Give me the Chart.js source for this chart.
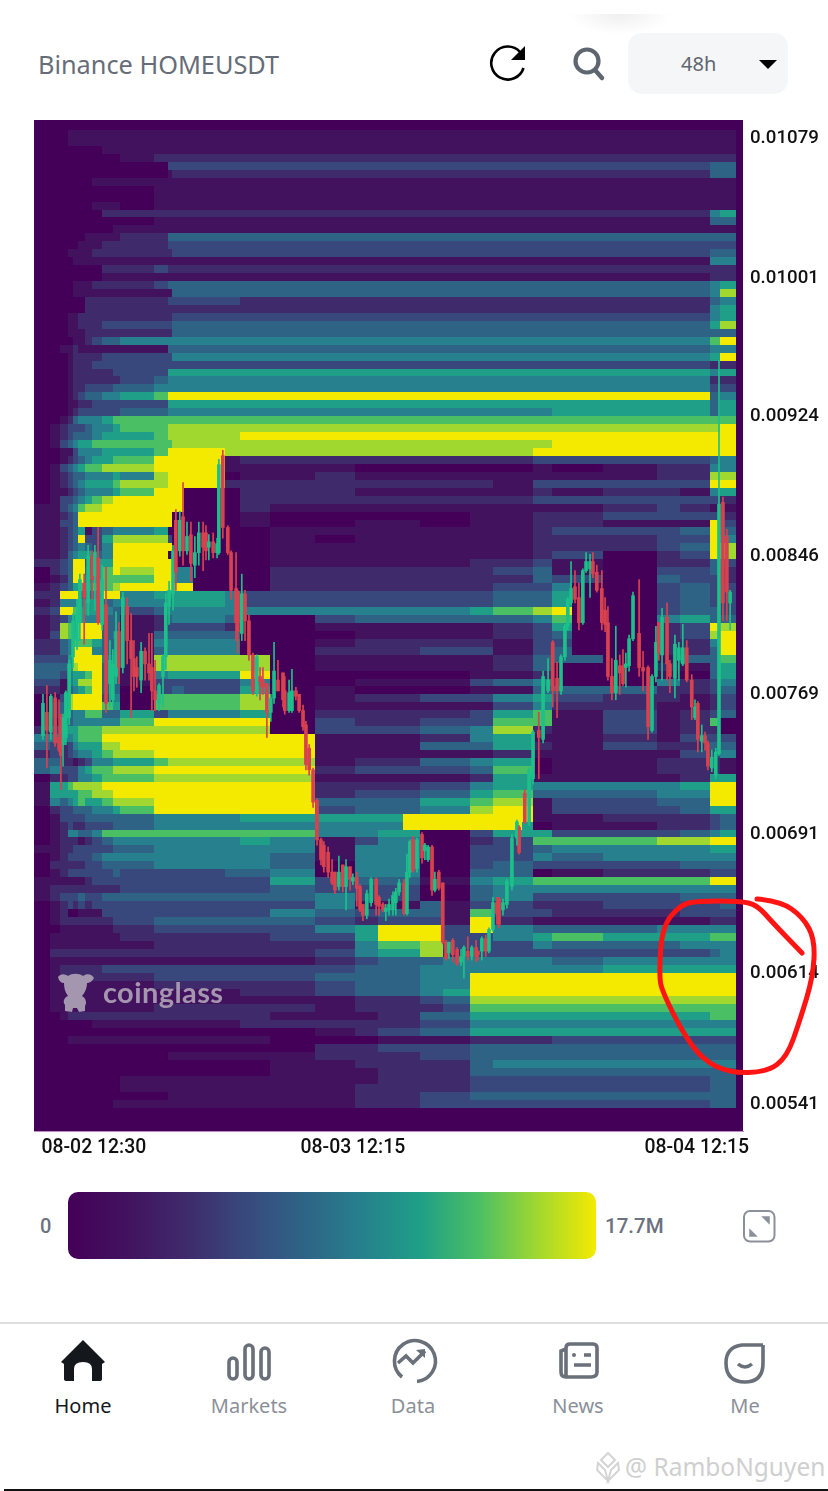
<!DOCTYPE html>
<html>
<head>
<title>Binance HOMEUSDT</title>
<script src="https://cdn.jsdelivr.net/npm/chart.js"></script>
<style>
  html, body { margin: 0; padding: 0; background: #fff; }
  #page { position: relative; width: 828px; height: 1491px; overflow: hidden; font-family: "Noto Sans", sans-serif; }
  #page > * { position: absolute; }
  #sensor { left: 0; top: 0; }
  .tab { top: 1393px; width: 120px; text-align: center; font-size: 20px; line-height: 26px; color: #8b9099; }
  svg { overflow: visible; }
</style>
</head>
<body>
<div id="page">
  <div style="left:570px;top:14px;width:100px;height:20px;background:radial-gradient(ellipse at 50% 0,#efefef 0,#f8f8f8 40%,#fff 72%)"></div>
  <div style="left:38px;top:46px;font-size:25.3px;line-height:36px;color:#666d78;white-space:nowrap">Binance HOMEUSDT</div>
  <svg style="left:0;top:0" width="828" height="100">
    <path d="M520 52 A16.5 16.5 0 1 0 523.5 68" fill="none" stroke="#000" stroke-width="2.6"/>
    <path d="M525 46 L525 60 L511 60 Z" fill="#000"/>
    <circle cx="587" cy="61" r="11.5" fill="none" stroke="#5f6670" stroke-width="4.2"/>
    <path d="M595 70 L602 78" stroke="#5f6670" stroke-width="4.4" stroke-linecap="round"/>
    <rect x="628" y="33" width="160" height="61" rx="14" fill="#f5f6f8"/>
    <path d="M759 60 L777 60 L768 69 Z" fill="#000"/>
  </svg>
  <div style="left:681px;top:46px;font-size:20px;line-height:36px;color:#5f6670">48h</div>

  <canvas id="sensor" width="828" height="1180"></canvas>

  <svg style="left:57px;top:970px" width="38" height="46" viewBox="0 0 38 46">
    <path d="M1 7 C4 3 8 4 11 6 C15 3 22 3 26 6 C30 3 35 4 37 8 C35 12 32 13 30 13 C30 19 27 24 25 26 C29 28 30 33 28 36 L28 41 L22 42 L20 38 L16 38 L15 42 L8 41 L8 35 C5 31 8 27 11 26 C8 22 7 18 7 13 C4 13 2 11 1 7 Z" fill="#a596b0"/>
  </svg>
  <div style="left:103px;top:973px;font-family:Lato,sans-serif;font-weight:700;font-size:29px;line-height:38px;color:#a596b0;letter-spacing:.4px">coinglass</div>

  <div style="left:40px;top:1212px;font-family:Roboto,sans-serif;font-weight:500;font-size:20px;line-height:28px;color:#6b7280">0</div>
  <div id="colorbar" style="left:68px;top:1192px;width:528px;height:67px;border-radius:10px"></div>
  <div style="left:605px;top:1212px;font-family:Roboto,sans-serif;font-weight:500;font-size:20.5px;line-height:28px;color:#6b7280">17.7M</div>
  <svg style="left:0;top:1200px" width="828" height="50">
    <rect x="744" y="11" width="30.5" height="30.5" rx="6" fill="none" stroke="#8b9099" stroke-width="2"/>
    <path d="M763 17 L769 17 L769 23 Z M750 30 L756 36 L750 36 Z" fill="#8b9099" stroke="#8b9099" stroke-width="1.5"/>
  </svg>

  <div style="left:0;top:1322px;width:828px;height:2px;background:#dedede"></div>
  <svg style="left:0;top:1330px" width="828" height="60">
    <path d="M83 10 L105 32 L102 34 L102 49 Q102 51 99 51 L92 51 L92 39 Q92 32 83 32 Q74 32 74 39 L74 51 L67 51 Q64 51 64 49 L64 34 L61 32 Z" fill="#14171c"/>
    <g fill="none" stroke="#6a707a" stroke-width="3.6">
      <rect x="229" y="28" width="8" height="21" rx="4"/><rect x="245" y="15" width="8" height="34" rx="4"/><rect x="261" y="18" width="8" height="31" rx="4"/>
      <path d="M402 47 A20.5 20.5 0 1 1 417 51.5"/><path d="M398 33 L406 26 L413 33 L425 21"/>
      <path d="M566 47 Q561 47 561 42 L561 21 L566 19 M566 47 L591 47 Q597 47 597 42 L597 18 Q597 14 593 14 L570 14 Q566 14 566 18 L566 47"/>
      <path d="M584 25 L591 25 M574 35 L591 35"/>
      <path d="M763 15 L742 15 Q726 17 726 33 Q726 52 745 52 Q763 52 763 33 L763 15"/>
      <path d="M738 34 Q745 40 752 34"/>
    </g>
    <path d="M425 19 L425 28 L416 20 Z" fill="#6a707a"/>
    <circle cx="574" cy="25" r="2" fill="#6a707a"/>
  </svg>
  <div class="tab" style="left:23px;color:#14171c">Home</div>
  <div class="tab" style="left:189px">Markets</div>
  <div class="tab" style="left:353px">Data</div>
  <div class="tab" style="left:518px">News</div>
  <div class="tab" style="left:685px">Me</div>

  <svg style="left:592px;top:1451px" width="32" height="32" viewBox="0 0 32 32">
    <path d="M16 2 L23 9 L16 16 L9 9 Z M6 12 L13 19 L16 30 L5 19 Z M26 12 L19 19 L16 30 L27 19 Z" fill="none" stroke="#d4d4d4" stroke-width="2"/>
  </svg>
  <div style="left:625px;top:1450px;font-family:'Noto Sans',sans-serif;font-size:24.5px;line-height:34px;color:#cfcfcf;white-space:nowrap">@ RamboNguyen</div>
  <div style="left:4px;top:1489px;width:824px;height:2px;background:#111"></div>

  <svg id="markup" style="left:0;top:0;pointer-events:none" width="828" height="1491">
    <path id="circle" fill="none" stroke="#ff1414" stroke-width="5" stroke-linecap="round" stroke-linejoin="round"/>
  </svg>
</div>

<script>
// price axis is in units of 0.00001 USDT, time axis in 15 minute slots
const priceTicks = [1079, 1001, 924, 846, 769, 691, 614, 541];
const timeTickSlots = [16.7, 89, 185];
const timeTickLabels = ['08-02 12:30', '08-03 12:15', '08-04 12:15'];

// liquidation levels: 0 (none) .. 9 (17.7M and up)
const heatPalette = ['#440058', '#42125f', '#3f2a6c', '#38487d', '#2f6386', '#26808d', '#1f9f87', '#4bbf64', '#a0d830', '#f4ea00'];
const heatEdges = [0, 4.47, 7.26, 9.49, 10.9, 12.3, 14.2, 16.2, 19, 22.1, 24, 33.5, 37.4, 38.5, 41.9, 44.4, 53.3, 57.5, 65.9, 78.4, 89.6, 96, 107.7, 114.1, 121.7, 128.1, 139.3, 144.6, 158.8, 173.9, 180.3, 188.7, 191.5, 196];
const heatTopPrice = 1082.4;
const heatStep = 4.428;
const heatRows = [
  '00011 11111 11111 11111 11111 11111 111',
  '00011 11111 11111 11111 11111 11111 111',
  '00000 00011 11111 11111 11111 11111 111',
  '00000 00000 12222 22222 22222 22222 222',
  '00000 00000 00333 33333 33333 33333 344',
  '00000 00000 00122 22222 22222 22222 244',
  '00000 00111 11111 11111 11111 11111 111',
  '00000 00000 01111 11111 11111 11111 111',
  '00000 00000 01111 11111 11111 11111 111',
  '00000 00111 01111 11111 11111 11111 111',
  '00000 00022 22222 22222 22222 22222 256',
  '00000 00000 01111 11111 11111 11111 144',
  '00000 00001 11111 11111 11111 11111 111',
  '00000 01111 22444 44444 44444 44444 444',
  '00000 11122 22333 33333 33333 33333 333',
  '00011 11222 22233 33333 33333 33333 344',
  '00001 11111 11111 11111 11111 11111 155',
  '00000 00022 23222 22222 22222 22222 222',
  '00000 00011 11111 11111 11111 11111 122',
  '00001 11222 23444 44444 44444 44444 456',
  '00001 11111 11144 44444 44444 44444 458',
  '00000 02222 22333 33222 22222 22222 245',
  '00000 02222 22222 22222 22222 22222 256',
  '00011 22222 22233 33333 33333 33333 356',
  '00011 22233 33344 44444 44444 44444 468',
  '00011 12222 22244 44444 44444 44444 444',
  '00001 12344 55555 55555 55555 55555 579',
  '00112 11111 11444 44444 44444 44444 455',
  '00012 22233 33355 55555 55555 55555 569',
  '00012 22333 33333 33333 33333 33333 322',
  '00012 22223 33666 66666 66666 66666 656',
  '00012 22222 34555 55555 55555 55555 522',
  '00012 23334 45555 55555 55555 55555 533',
  '00012 34455 67999 99999 99999 99999 945',
  '00011 22333 33666 66666 66666 66666 646',
  '00012 33333 44555 55555 55555 55666 646',
  '00124 55567 77777 77777 77777 77777 777',
  '01233 34556 77888 88888 88888 88888 889',
  '01234 44566 67888 88999 99999 99999 999',
  '01345 66777 77788 88888 88888 88999 999',
  '00113 55566 67999 98888 88888 89999 999',
  '00123 45667 79999 91222 22222 23333 345',
  '01345 67788 89999 91111 00000 01012 255',
  '01234 45556 58999 90112 11111 11112 288',
  '01234 56667 88999 92222 22222 13333 399',
  '01123 45556 79990 00222 11111 12122 156',
  '01334 56789 99990 00222 22222 23333 332',
  '11345 78899 99990 00211 11111 11123 211',
  '11234 99999 99900 00100 00001 12233 332',
  '11334 99999 99900 00100 11001 12211 193',
  '11234 61345 56000 00011 11111 12333 494',
  '11234 93368 88300 00010 11111 12223 395',
  '11234 54359 99900 00011 11111 12223 498',
  '11245 66459 99000 00011 11111 12302 398',
  '22349 93669 99900 00011 11112 23102 243',
  '02349 94679 89955 00022 22222 34103 342',
  '01249 95677 79955 00022 22222 24304 332',
  '12346 76778 99999 00022 22222 33503 433',
  '22999 44599 56666 65333 33333 44603 433',
  '12555 56645 55566 65333 33333 44603 433',
  '23997 66654 34555 55555 55556 78903 443',
  '12356 65544 12455 54003 44444 45705 644',
  '12875 99944 12333 32001 11111 23602 398',
  '13876 99945 14444 44000 11111 23402 389',
  '22457 77644 15555 55001 22222 13302 259',
  '22459 99544 14555 55002 22333 13402 249',
  '33369 99955 18888 88801 11111 24401 447',
  '44468 99945 18888 88801 11111 24002 146',
  '44356 67944 15666 66900 00001 12001 046',
  '33156 88944 13333 33500 11113 45005 235',
  '22145 67944 03343 33601 00001 14442 234',
  '01389 99935 07777 77801 22333 56322 123',
  '02489 99976 07777 77801 11111 35221 123',
  '02445 57744 63555 55602 22223 67131 234',
  '01345 55555 79999 99903 22333 77131 270',
  '23666 77788 88888 88803 33445 82131 220',
  '55556 77799 99999 99991 11225 61121 333',
  '43235 66688 99999 99991 11444 62132 244',
  '23234 55678 89999 99991 11111 21111 335',
  '44221 23556 67888 88881 22445 60112 221',
  '45333 56778 89999 99992 33334 70112 221',
  '02233 55677 78888 88881 11112 61111 266',
  '16678 88899 99999 99992 22335 65555 699',
  '16666 77889 99999 99992 33446 74445 599',
  '15456 76678 89999 99994 44667 81334 499',
  '02334 44556 79999 99993 44558 91333 466',
  '01333 34444 45555 55666 66999 91122 234',
  '01232 23334 45555 55555 55999 60112 234',
  '01255 44577 77777 77775 56003 66333 456',
  '01222 12345 55555 55651 35002 37778 899',
  '11223 33334 45555 55551 55003 34555 566',
  '01233 33455 55555 55541 55003 35455 555',
  '02222 23344 45555 55540 55003 43333 444',
  '01233 33334 33333 34450 55004 40122 233',
  '11111 12333 33333 33363 44115 67777 799',
  '12222 22222 33333 33343 33004 55555 555',
  '12333 43344 44444 44445 33004 53333 444',
  '01232 32333 33333 33335 11413 32233 334',
  '01200 11133 33333 33354 34417 33222 333',
  '01222 22223 34444 44443 23319 21111 122',
  '00111 11112 23333 33335 69939 54445 555',
  '01111 11111 22222 22233 69933 56766 677',
  '01111 11111 12222 22222 57833 35444 555',
  '02222 22222 22222 22223 56823 33333 345',
  '01111 11111 11111 11112 34455 55455 555',
  '01222 22233 33333 33333 44555 55566 666',
  '01222 22222 23333 33334 44559 99999 999',
  '01111 11111 12222 22223 44559 99999 999',
  '01111 11111 11111 11223 44569 99999 999',
  '01111 11111 11111 11111 22348 88888 888',
  '01111 11111 12222 22221 22237 77777 777',
  '00122 22222 22222 22211 12446 66666 677',
  '00000 00111 11111 11222 22335 55555 555',
  '00000 00000 00000 00001 23446 66666 666',
  '00011 11111 11111 11100 01112 22333 333',
  '00000 00000 00000 00002 23334 44444 444',
  '00000 00000 00111 11112 22334 44444 444',
  '00000 00000 00000 00011 22224 55555 555',
  '00000 00000 00000 00011 12224 44444 444',
  '00000 00000 11111 11111 12223 33333 344',
  '00000 00000 11111 11111 22223 33333 344',
  '00000 00000 00111 11111 22334 44444 444',
  '00000 00001 11111 11111 22333 33333 344'
];
// first row, last row, from slot, to slot, level: spots that do not fall on the column edges
const heatPatches = [
  [57, 65, 150.2, 158.8, 0],
  [86, 87, 103, 107.7, 9],
  [87, 87, 128.1, 136.1, 9]
];

// candles
const candleSlot = [
  2.5,3.6,4.7,5.9,7,7.5,8.1,8.9,9.8,10.9,
  12,12.8,14,15.1,16.2,17,17.9,19,20.1,21.2,
  22,22.9,23.7,24.8,26,27.1,27.9,28.7,29.9,31,
  32.1,32.9,33.8,34.9,36,36.8,37.7,38.8,39.6,40.7,
  41.6,42.7,43.8,44.9,46,47.2,48,48.8,50,51.1,
  51.6,52.7,54.1,55,56.4,56.9,58,58.9,60,61.1,
  62.2,63.1,63.9,65,66.1,67,68.1,69.5,70,71.2,
  72,73.1,74,75.1,75.9,76.8,77.9,79,80.1,80.9,
  82.1,83.2,84,85.1,86.2,87.1,88.2,89,90.1,91,
  91.8,92.9,94.1,95.5,96.3,97.4,98.2,99.1,100.2,101,
  101.9,103.3,104.1,104.9,105.8,106.9,108.3,109.1,110,111.1,
  111.9,113,114.1,115,115.8,116.9,118.1,119.2,120,121.1,
  122.2,123.4,123.9,125,126.1,127,128.1,129.2,129.8,130.9,
  132,133.4,134.8,135.4,137,138.2,139.3,140.9,142.1,143.5,
  144.8,146,147.1,148.2,149,149.9,151,152.1,153.2,154.1,
  155.2,156,157.1,158.5,159.4,160.2,161.3,162.4,163.5,164.4,
  165.2,166.1,167.2,168.9,170,171.4,172.5,173.6,174.4,175.3,
  176.7,177.5,178.9,180,181.1,182.2,183.6,184.5,185.3,186.4,
  187.3,188.1,189.2,190.3,191.2,192.3,193.4,194.3
];
const candleOpen = [
  745,758,747,766,744,743,740,744,755,789,
  798,808,830,819,845,834,844,807,818,774,
  765,778,803,783,817,798,788,783,776,792,
  785,783,770,763,778,789,817,824,865,848,
  867,848,857,840,847,858,858,850,853,847,
  847,901,861,847,827,825,802,824,809,790,
  769,778,776,774,758,766,776,780,770,759,
  759,770,768,759,751,738,726,709,687,684,
  680,669,669,661,673,661,672,664,666,661,
  651,645,652,665,655,651,647,648,648,652,
  658,663,646,669,687,671,690,681,676,683,
  659,669,663,630,624,631,626,619,622,625,
  622,627,625,625,632,625,637,652,654,648,
  651,661,688,694,713,697,721,748,743,770,
  797,777,770,789,806,819,828,822,808,837,
  838,842,836,827,815,808,778,769,784,784,
  783,784,799,802,783,783,748,778,808,790,
  811,785,777,787,785,794,776,755,763,742,
  745,741,727,723,735,875,856,819
];
const candleClose = [
  763,748,767,741,737,734,755,769,785,809,
  814,832,822,845,832,847,808,832,763,787,
  785,803,783,822,798,788,778,778,792,785,
  780,770,765,773,789,819,826,848,836,865,
  848,856,841,847,858,850,848,853,847,852,
  896,861,847,826,808,803,824,809,790,770,
  789,775,772,758,766,781,770,765,759,769,
  770,767,759,750,729,726,708,687,676,672,
  669,663,659,669,661,672,665,666,660,648,
  645,657,665,651,650,648,649,651,656,658,
  663,646,669,686,670,687,677,684,683,659,
  665,660,630,621,630,623,618,622,627,622,
  627,622,623,632,625,637,652,646,640,652,
  664,688,697,680,697,726,747,744,778,776,
  770,770,789,806,821,827,821,808,837,842,
  842,835,826,808,807,778,769,787,780,774,
  785,799,823,783,781,750,778,797,791,811,
  785,778,796,794,794,776,761,761,743,745,
  741,728,733,736,874,819,825,825
];
const candleHigh = [
  768,773,768,769,765,757,757,770,787,813,
  821,835,835,851,848,851,861,840,839,798,
  793,814,808,825,822,813,798,789,797,794,
  802,802,787,774,790,824,831,851,871,870,
  886,864,864,856,864,864,862,857,858,855,
  899,904,862,848,847,826,835,826,812,791,
  790,783,783,774,768,797,787,780,778,776,
  782,772,768,762,753,740,727,710,688,686,
  683,676,669,678,673,676,672,668,669,662,
  651,659,666,666,656,652,651,654,658,660,
  665,665,679,687,689,688,691,685,684,684,
  669,670,663,631,630,632,627,626,628,633,
  628,631,625,633,634,638,655,655,655,654,
  665,690,698,695,715,727,748,758,781,788,
  798,786,790,807,822,842,837,830,838,847,
  846,847,840,837,822,817,788,806,790,793,
  791,801,825,832,792,784,779,806,808,816,
  819,787,801,797,807,798,779,765,764,751,
  747,742,737,738,954,878,860,826
];
const candleLow = [
  743,727,743,739,736,715,728,740,751,783,
  793,798,796,812,821,815,807,804,758,761,
  762,774,774,780,785,755,770,772,769,776,
  776,759,759,759,761,782,807,815,826,845,
  840,846,831,833,840,837,843,843,844,844,
  846,855,846,821,798,791,798,798,787,768,
  767,765,768,744,753,763,770,761,757,758,
  758,765,758,748,726,723,705,684,673,669,
  666,662,657,659,658,648,659,662,650,647,
  642,643,650,645,645,647,642,645,645,645,
  656,645,645,666,669,669,674,676,675,656,
  658,659,629,620,621,619,617,617,610,620,
  620,619,620,620,622,624,636,640,638,645,
  649,659,684,679,696,695,718,721,741,769,
  761,755,768,787,804,818,819,804,807,836,
  822,833,825,804,803,776,765,765,768,773,
  772,781,798,778,770,743,747,775,787,776,
  776,769,766,776,784,775,754,754,736,736,
  737,726,725,721,734,809,809,804
];

const UP = '#1cc18a';
const DOWN = '#d8424f';

// merge each row into runs of the same level
const heatCells = [];
heatRows.forEach((row, r) => {
  const levels = row.replace(/ /g, '');
  let start = 0;
  for (let c = 1; c <= levels.length; c++) {
    if (levels[c] !== levels[start]) {
      heatCells.push({
        x: heatEdges[start],
        x2: heatEdges[c],
        y: heatTopPrice - r * heatStep,
        y2: heatTopPrice - (r + 1) * heatStep,
        level: +levels[start]
      });
      start = c;
    }
  }
});
heatPatches.forEach(([first, last, from, to, level]) => {
  for (let r = first; r <= last; r++) {
    heatCells.push({ x: from, x2: to, y: heatTopPrice - r * heatStep, y2: heatTopPrice - (r + 1) * heatStep, level });
  }
});

const heatPlugin = {
  id: 'heat',
  beforeDatasetsDraw(chart) {
    const { ctx, chartArea, scales } = chart;
    ctx.save();
    ctx.fillStyle = heatPalette[0];
    ctx.fillRect(chartArea.left, chartArea.top, chartArea.width, chartArea.height);
    heatCells.forEach(cell => {
      const x0 = Math.round(scales.x.getPixelForValue(cell.x));
      const x1 = Math.round(scales.x.getPixelForValue(cell.x2));
      const y0 = Math.round(scales.y.getPixelForValue(cell.y));
      const y1 = Math.round(scales.y.getPixelForValue(cell.y2));
      ctx.fillStyle = heatPalette[cell.level];
      ctx.fillRect(x0, y0, x1 - x0, y1 - y0);
    });
    ctx.restore();
  }
};

const candleColors = candleOpen.map((o, i) => candleClose[i] >= o ? UP : DOWN);

new Chart(document.getElementById('sensor').getContext('2d'), {
  type: 'bar',
  data: {
    datasets: [
      {
        label: 'wick',
        data: candleSlot.map((s, i) => ({ x: s, y: [candleLow[i], candleHigh[i]] })),
        backgroundColor: candleColors,
        barThickness: 1,
        grouped: false
      },
      {
        label: 'body',
        data: candleSlot.map((s, i) => ({ x: s, y: [candleOpen[i], candleClose[i]] })),
        backgroundColor: candleColors,
        barThickness: 3,
        minBarLength: 2,
        grouped: false
      }
    ]
  },
  options: {
    responsive: false,
    animation: false,
    layout: { padding: { left: 34, top: 120, right: 0, bottom: 0 } },
    plugins: { legend: { display: false }, tooltip: { enabled: false } },
    scales: {
      x: {
        type: 'linear',
        offset: false,
        min: 0,
        max: 197.9,
        afterFit: s => { s.height = 49; },
        afterBuildTicks: s => { s.ticks = timeTickSlots.map(v => ({ value: v })); },
        grid: { display: false, drawTicks: false },
        border: { display: true, color: '#b98cc4', width: 1 },
        ticks: {
          autoSkip: false,
          maxRotation: 0,
          padding: 6,
          color: '#111',
          font: { family: 'Roboto', size: 19.4, weight: '500' },
          callback: v => timeTickLabels[timeTickSlots.indexOf(v)]
        }
      },
      y: {
        type: 'linear',
        position: 'right',
        min: 524.8,
        max: 1088,
        afterFit: s => { s.width = 85; },
        afterBuildTicks: s => { s.ticks = priceTicks.map(v => ({ value: v })); },
        grid: { display: false, drawTicks: false },
        border: { display: false },
        ticks: {
          autoSkip: false,
          padding: 7,
          labelOffset: 2,
          color: '#111',
          font: { family: 'Roboto', size: 18.7, weight: '500' },
          callback: v => (v / 1e5).toFixed(5)
        }
      }
    }
  },
  plugins: [heatPlugin]
});

document.getElementById('colorbar').style.background =
  'linear-gradient(90deg,' + heatPalette.join(',') + ')';

// hand drawn red ring over the lower right corner
const ring = [[757,899],[780,901],[803,917],[815,940],[813,977],[800,1020],[787,1057],[767,1072],[730,1073],[703,1060],[683,1033],[663,993],[659,977],[662,927],[680,905],[697,901],[740,901],[757,905],[773,923],[802,953]];
let ringPath = 'M' + ring[0].join(' ');
for (let i = 1; i < ring.length - 1; i++) {
  const mx = (ring[i][0] + ring[i + 1][0]) / 2, my = (ring[i][1] + ring[i + 1][1]) / 2;
  ringPath += ' Q' + ring[i].join(' ') + ' ' + mx + ' ' + my;
}
ringPath += ' L' + ring[ring.length - 1].join(' ');
document.getElementById('circle').setAttribute('d', ringPath);
</script>
</body>
</html>
